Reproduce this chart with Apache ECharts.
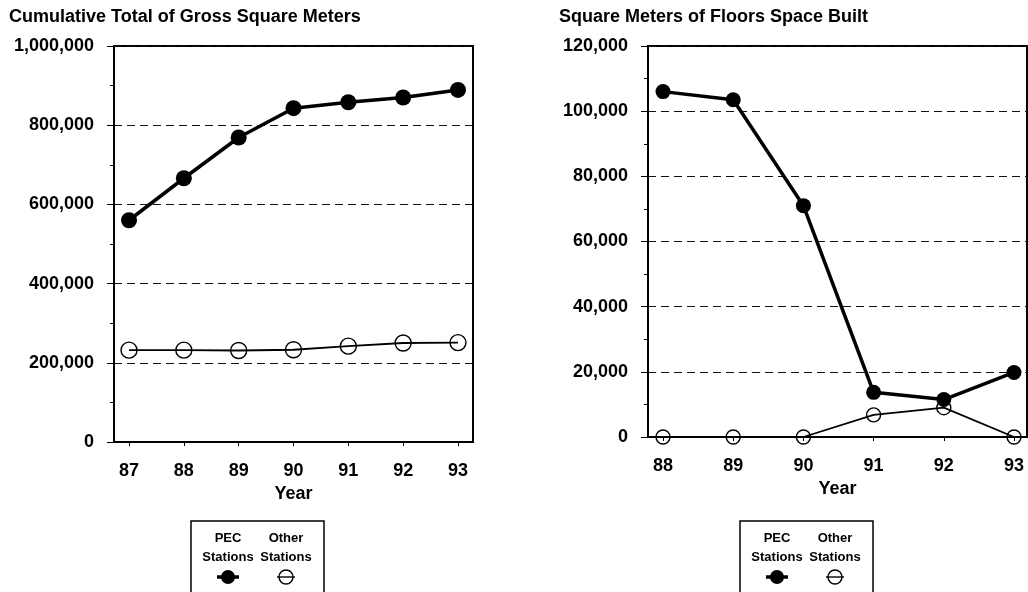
<!DOCTYPE html>
<html>
<head>
<meta charset="utf-8">
<title>Gross Square Meters</title>
<script src="https://cdn.jsdelivr.net/npm/echarts@6/dist/echarts.min.js"></script>
<style>
  html, body { margin: 0; padding: 0; background: #fff; }
  #chart { width: 1028px; height: 592px; }
</style>
</head>
<body>
<div id="chart"></div>
<script>
// Cumulative floor space, 1987-1993
const cumulativeYears = [87, 88, 89, 90, 91, 92, 93];
const pecCumulative = [560000, 666000, 769000, 843000, 858000, 870000, 889000];
const otherCumulative = [232000, 232000, 231000, 233000, 242000, 250000, 251000];

// Floor space built each year, 1988-1993
const builtYears = [88, 89, 90, 91, 92, 93];
const pecBuilt = [106000, 103500, 71000, 13700, 11500, 19800];
const otherBuilt = [0, 0, 0, 6800, 9000, 0];

const cumulativeTicks = [0, 200000, 400000, 600000, 800000, 1000000];
const builtTicks = [0, 20000, 40000, 60000, 80000, 100000, 120000];

const FONT = "'Liberation Sans', Arial, Helvetica, sans-serif";
const INK = '#000';
const SIZE = 18;

const pairs = (xs, ys) => xs.map((x, i) => [x, ys[i]]);
const fmt = v => v.toLocaleString('en-US');

function xAxisFor(gridIndex, years, min, max) {
  return {
    type: 'value', gridIndex, min, max,
    name: 'Year', nameLocation: 'middle', nameGap: 42,
    nameTextStyle: { color: INK, fontFamily: FONT, fontSize: SIZE, fontWeight: 'bold' },
    axisLine: { show: true, lineStyle: { color: INK, width: 2 } },
    axisTick: { show: true, customValues: years, length: 4, lineStyle: { color: INK, width: 1 } },
    axisLabel: { customValues: years, margin: 20, color: INK, fontFamily: FONT, fontSize: SIZE, fontWeight: 'bold' },
    splitLine: { show: false }
  };
}

function yAxisFor(gridIndex, ticks) {
  const step = ticks[1] - ticks[0];
  return {
    type: 'value', gridIndex,
    min: ticks[0], max: ticks[ticks.length - 1], interval: step,
    axisLine: { show: true, lineStyle: { color: INK, width: 2 } },
    axisTick: { show: true, inside: false, length: 7, lineStyle: { color: INK, width: 1 } },
    minorTick: { show: true, splitNumber: 2, length: 4, lineStyle: { color: INK, width: 1 } },
    axisLabel: { margin: 20, color: INK, fontFamily: FONT, fontSize: SIZE, fontWeight: 'bold', formatter: fmt },
    splitLine: { show: true, lineStyle: { color: '#111', width: 1.2, type: [8, 5] } }
  };
}

function pecSeries(idx, data, size) {
  return {
    type: 'line', xAxisIndex: idx, yAxisIndex: idx, data,
    symbol: 'circle', symbolSize: size, clip: false,
    lineStyle: { color: INK, width: 3.5 },
    itemStyle: { color: INK }, z: 4
  };
}

function otherSeries(idx, data, size) {
  return {
    type: 'line', xAxisIndex: idx, yAxisIndex: idx, data,
    symbol: 'circle', symbolSize: size, clip: false,
    lineStyle: { color: INK, width: 1.8 },
    itemStyle: { color: 'rgba(255,255,255,0)', borderColor: INK, borderWidth: 1.4 }, z: 3
  };
}

// Legend block: two labelled columns with a sample marker under each
function legendBlock(left) {
  const top = 521;
  const label = (text, x, y) => ({
    type: 'text', x, y,
    style: { text, fill: INK, font: `bold 13px ${FONT}`, align: 'center', verticalAlign: 'middle' }
  });
  const pecX = left + 37, otherX = left + 95;
  return [
    { type: 'rect', shape: { x: left, y: top, width: 133, height: 90 },
      style: { fill: '#fff', stroke: INK, lineWidth: 1.5 } },
    label('PEC', pecX, top + 17),
    label('Other', otherX, top + 17),
    label('Stations', pecX, top + 36),
    label('Stations', otherX, top + 36),
    { type: 'line', shape: { x1: pecX - 11, y1: top + 56, x2: pecX + 11, y2: top + 56 },
      style: { stroke: INK, lineWidth: 3.5 } },
    { type: 'circle', shape: { cx: pecX, cy: top + 56, r: 7 }, style: { fill: INK } },
    { type: 'line', shape: { x1: otherX - 9, y1: top + 56, x2: otherX + 9, y2: top + 56 },
      style: { stroke: INK, lineWidth: 1.4 } },
    { type: 'circle', shape: { cx: otherX, cy: top + 56, r: 7 },
      style: { fill: 'none', stroke: INK, lineWidth: 1.4 } }
  ];
}

const chart = echarts.init(document.getElementById('chart'), null, { renderer: 'canvas' });

const titleStyle = { color: INK, fontFamily: FONT, fontSize: SIZE, fontWeight: 'bold' };

chart.setOption({
  animation: false,
  backgroundColor: '#fff',
  title: [
    { text: 'Cumulative Total of Gross Square Meters', left: 9, top: 8, padding: 0, textStyle: titleStyle },
    { text: 'Square Meters of Floors Space Built', left: 559, top: 8, padding: 0, textStyle: titleStyle }
  ],
  grid: [
    { left: 114, top: 46, width: 359, height: 396, show: true, borderColor: INK, borderWidth: 2, containLabel: false },
    { left: 648, top: 46, width: 379, height: 391, show: true, borderColor: INK, borderWidth: 2, containLabel: false }
  ],
  xAxis: [
    xAxisFor(0, cumulativeYears, 86.726, 93.274),
    xAxisFor(1, builtYears, 87.786, 93.185)
  ],
  yAxis: [
    yAxisFor(0, cumulativeTicks),
    yAxisFor(1, builtTicks)
  ],
  series: [
    pecSeries(0, pairs(cumulativeYears, pecCumulative), 16),
    otherSeries(0, pairs(cumulativeYears, otherCumulative), 16),
    pecSeries(1, pairs(builtYears, pecBuilt), 15),
    otherSeries(1, pairs(builtYears, otherBuilt), 14)
  ],
  graphic: [...legendBlock(191), ...legendBlock(740)]
});
</script>
</body>
</html>
